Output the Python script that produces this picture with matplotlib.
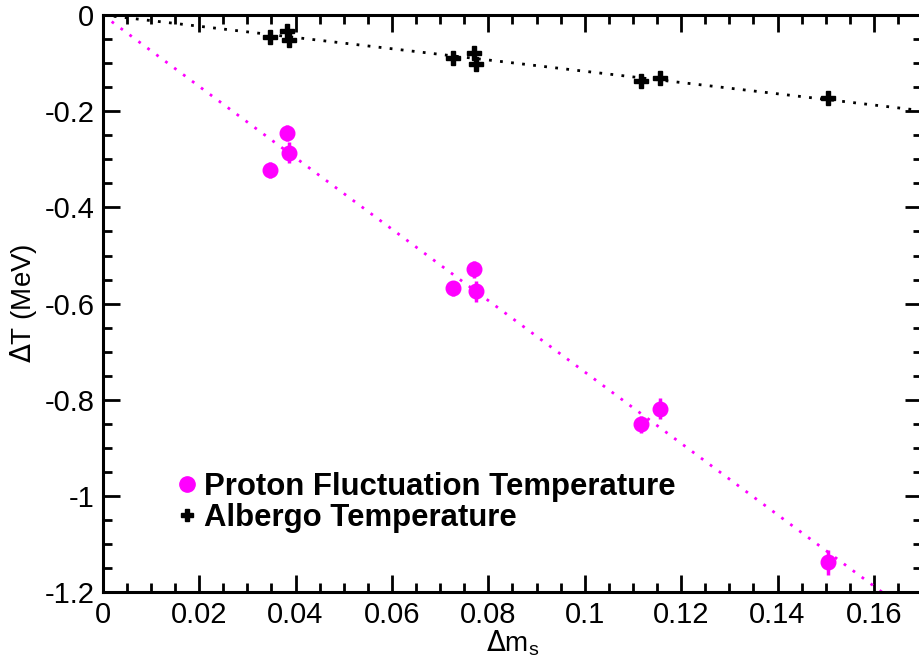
"""Delta T vs Delta m_s: proton fluctuation and Albergo temperatures with linear fits."""
import numpy as np
import matplotlib
matplotlib.use("Agg")
import matplotlib.pyplot as plt
from matplotlib.lines import Line2D
from matplotlib.ticker import MultipleLocator, FuncFormatter

plt.rcParams.update({
    "font.family": ["Liberation Sans", "DejaVu Sans"],
    "axes.unicode_minus": False,
})
MAGENTA = "#ff00ff"
BLACK = "#000000"

# ---------------------------------------------------------------- data
dms = [0.0346, 0.0382, 0.0387, 0.0727, 0.0770, 0.0774, 0.1116, 0.1156, 0.1505]
dT_proton = [-0.322, -0.245, -0.286, -0.568, -0.529, -0.574, -0.851, -0.818, -1.138]
err_proton = [0.016, 0.016, 0.022, 0.016, 0.018, 0.022, 0.018, 0.022, 0.026]
dT_albergo = [-0.045, -0.033, -0.052, -0.090, -0.079, -0.101, -0.137, -0.130, -0.173]
err_albergo = [0.006, 0.008, 0.008, 0.006, 0.008, 0.008, 0.006, 0.006, 0.006]

# linear fits through the origin (slopes)
slope_proton = -7.42
slope_albergo = -1.17
fit_x = [0.0, 0.17]

# ---------------------------------------------------------------- figure
fig = plt.figure(figsize=(9.19, 6.60), dpi=100)
ax = fig.add_axes([0.1118, 0.1026, 0.8916, 0.8747])

fx = np.array(fit_x)
ax.plot(fx, slope_proton * fx, color=MAGENTA, lw=2, ls=(0, (1, 3)))
ax.plot(fx, slope_albergo * fx, color=BLACK, lw=2, ls=(0, (1, 3)))

ax.errorbar(dms, dT_proton, yerr=err_proton, fmt="o", color=MAGENTA,
            ms=10.5, elinewidth=2.5, capsize=0, zorder=3)
ax.errorbar(dms, dT_albergo, yerr=err_albergo, fmt="P", color=BLACK,
            ms=10, elinewidth=2.5, capsize=0, zorder=3)

ax.set_xlim(0, 0.17)
ax.set_ylim(-1.2, 0)
ax.xaxis.set_major_locator(MultipleLocator(0.02))
ax.xaxis.set_minor_locator(MultipleLocator(0.005))
ax.yaxis.set_major_locator(MultipleLocator(0.2))
ax.yaxis.set_minor_locator(MultipleLocator(0.05))
fmt = FuncFormatter(lambda v, p: f"{v:g}" if abs(v) > 1e-9 else "0")
ax.xaxis.set_major_formatter(fmt)
ax.yaxis.set_major_formatter(fmt)

ax.tick_params(which="both", direction="in", top=True, right=True,
               width=2, labelsize=21, pad=6)
ax.tick_params(which="major", length=12)
ax.tick_params(which="minor", length=6.5)
for s in ax.spines.values():
    s.set_linewidth(2.2)

ax.set_xlabel(r"$\Delta$m$_\mathregular{s}$", fontsize=20, labelpad=0)
ax.set_ylabel(r"$\Delta$T (MeV)", fontsize=20, labelpad=4)

handles = [
    Line2D([], [], ls="none", marker="o", color=MAGENTA, ms=11),
    Line2D([], [], ls="none", marker="P", color=BLACK, ms=9),
]
ax.legend(handles, ["Proton Fluctuation Temperature", "Albergo Temperature"],
          loc="upper left", bbox_to_anchor=(0.074, 0.236), frameon=False,
          borderpad=0, handlelength=0.5, handletextpad=0.3, labelspacing=0.05,
          prop={"weight": "bold", "size": 22.4})

fig.savefig("out.png", dpi=100)
plt.close(fig)
